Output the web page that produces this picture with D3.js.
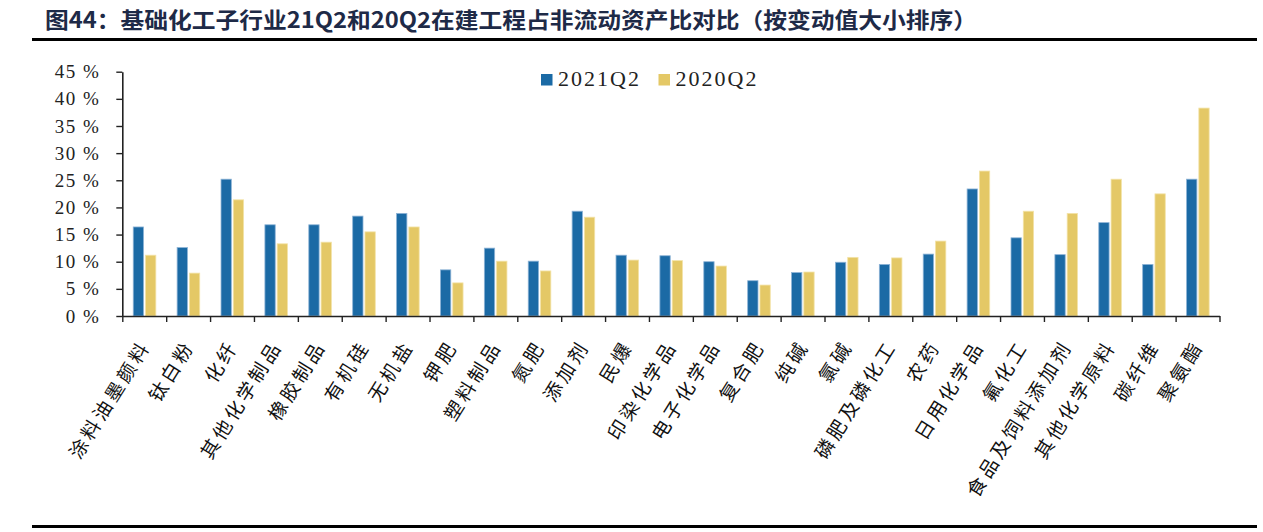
<!DOCTYPE html>
<html>
<head>
<meta charset="utf-8">
<script src="https://cdn.jsdelivr.net/npm/d3@7"></script>
<style>
  body { margin: 0; background: #fff; }
  svg { display: block; }
</style>
</head>
<body>
<svg id="chart" width="1263" height="532"></svg>
<script>
/** ------------- DATA -------------- */
const categories = [
    "涂料油墨颜料", "钛白粉", "化纤", "其他化学制品", "橡胶制品", "有机硅", "无机盐",
    "钾肥", "塑料制品", "氮肥", "添加剂", "民爆", "印染化学品", "电子化学品", "复合肥",
    "纯碱", "氯碱", "磷肥及磷化工", "农药", "日用化学品", "氟化工", "食品及饲料添加剂",
    "其他化学原料", "碳纤维", "聚氨酯"
];
const seriesNames = ["2021Q2", "2020Q2"];
const values2021 = [16.4, 12.6, 25.2, 16.8, 16.8, 18.4, 18.9, 8.5, 12.5, 10.1, 19.3, 11.2, 11.1,
    10.0, 6.5, 8.0, 9.9, 9.5, 11.4, 23.4, 14.4, 11.3, 17.2, 9.5, 25.2];
const values2020 = [11.2, 7.9, 21.4, 13.3, 13.6, 15.5, 16.4, 6.1, 10.1, 8.3, 18.2, 10.3, 10.2,
    9.2, 5.7, 8.1, 10.8, 10.7, 13.8, 26.7, 19.3, 18.9, 25.2, 22.5, 38.3];
const yTicks = [0, 5, 10, 15, 20, 25, 30, 35, 40, 45];
const colors = ["#1b6aa5", "#e4c866"];
const strokes = ["#8db3d6", "#f3e3a8"];

const title = "图44：基础化工子行业21Q2和20Q2在建工程占非流动资产比对比（按变动值大小排序）";

/** ------------- LAYOUT -------------- */
const svg = d3.select("#chart");
const plotLeft = 122.3;
const plotRight = 1219.5;
const plotTop = 71.7;
const plotBottom = 316;

/** title and rules */
svg.append("text")
    .attr("x", 45)
    .attr("y", 28)
    .attr("textLength", 932)
    .attr("lengthAdjust", "spacingAndGlyphs")
    .style("font-family", "'Noto Sans CJK SC', sans-serif")
    .style("font-weight", "bold")
    .style("font-size", "22px")
    .style("fill", "#1e2a47")
    .text(title);

svg.append("line")
    .attr("x1", 32).attr("x2", 1257)
    .attr("y1", 39.5).attr("y2", 39.5)
    .style("stroke", "#000").style("stroke-width", 3);
svg.append("line")
    .attr("x1", 32).attr("x2", 1257)
    .attr("y1", 526.5).attr("y2", 526.5)
    .style("stroke", "#000").style("stroke-width", 3);

/** scales */
const x0 = d3.scaleBand().domain(categories).range([plotLeft, plotRight]).padding(0);
const band = x0.bandwidth();
const x1 = d3.scaleBand().domain(seriesNames)
    .range([band / 2 - 11, band / 2 + 11.6]).paddingInner(0.16);
const y = d3.scaleLinear().domain([0, 45]).range([plotBottom, plotTop]);
const xEdge = d3.scaleLinear().domain([0, categories.length]).range([plotLeft, plotRight]);

/** bars */
const rows = categories.map((c, i) => ({ cat: c, vals: [values2021[i], values2020[i]] }));
const groups = svg.append("g")
    .selectAll("g")
    .data(rows)
    .join("g")
    .attr("transform", (d) => `translate(${x0(d.cat)},0)`);

groups.selectAll("rect")
    .data((d) => d.vals.map((v, k) => ({ key: seriesNames[k], v: v, k: k })))
    .join("rect")
    .attr("x", (d) => x1(d.key))
    .attr("width", x1.bandwidth())
    .attr("y", (d) => y(d.v))
    .attr("height", (d) => plotBottom - y(d.v))
    .style("fill", (d) => colors[d.k])
    .style("stroke", (d) => strokes[d.k])
    .style("stroke-width", 0.8);

/** y axis */
const yAxis = svg.append("g")
    .attr("transform", `translate(${plotLeft},0)`)
    .call(d3.axisLeft(y).tickValues(yTicks).tickFormat((d) => d + " %").tickSize(6).tickSizeOuter(0));
yAxis.select(".domain").style("stroke", "#222").style("stroke-width", 1.6);
yAxis.selectAll(".tick line").style("stroke", "#222").style("stroke-width", 1.4);
yAxis.selectAll(".tick text")
    .attr("x", -22)
    .style("font-family", "'Liberation Serif', 'DejaVu Serif', serif")
    .style("font-size", "19px")
    .style("letter-spacing", "1.5px")
    .style("fill", "#222");

/** x axis */
const xAxis = svg.append("g")
    .attr("transform", `translate(0,${plotBottom})`)
    .call(d3.axisBottom(xEdge).tickValues(d3.range(0, categories.length + 1)).tickFormat("").tickSize(6).tickSizeOuter(0));
xAxis.select(".domain").style("stroke", "#222").style("stroke-width", 1.6);
xAxis.selectAll(".tick line").style("stroke", "#222").style("stroke-width", 1.4);

/** category labels */
svg.append("g")
    .selectAll("text")
    .data(categories)
    .join("text")
    .attr("transform", (d) => `translate(${x0(d) + band / 2 + 7},${plotBottom + 30}) rotate(-58)`)
    .attr("text-anchor", "end")
    .style("font-family", "'Noto Sans CJK SC', sans-serif")
    .style("font-size", "19px")
    .style("letter-spacing", "3.5px")
    .style("fill", "#111")
    .text((d) => d);

/** legend */
const legendX = [541, 658.5];
const legend = svg.append("g")
    .selectAll("g")
    .data(seriesNames)
    .join("g")
    .attr("transform", (d, i) => `translate(${legendX[i]},74)`);
legend.append("rect")
    .attr("width", 11.5).attr("height", 11.5)
    .style("fill", (d, i) => colors[i]);
legend.append("text")
    .attr("x", 17)
    .attr("y", 12)
    .style("font-family", "'Liberation Serif', 'DejaVu Serif', serif")
    .style("font-size", "22px")
    .style("letter-spacing", "2px")
    .style("fill", "#222")
    .text((d) => d);
</script>
</body>
</html>
